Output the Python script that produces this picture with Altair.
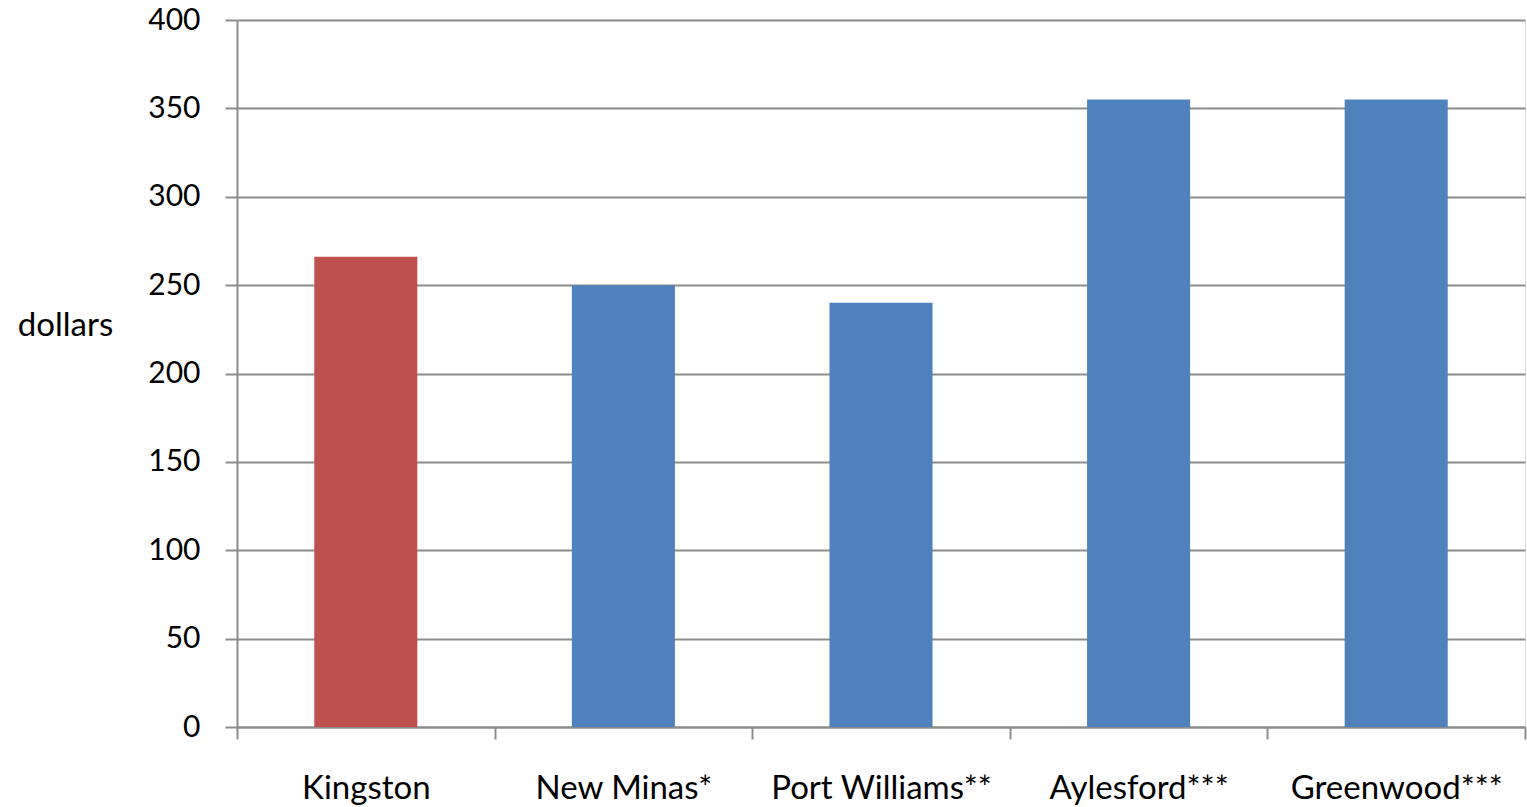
import altair as alt
import pandas as pd

# Average cost by community (dollars)
towns = ["Kingston", "New Minas*", "Port Williams**", "Aylesford***", "Greenwood***"]
dollars = [266, 250, 240, 355, 355]
bar_colors = ["#C0504D", "#4F81BD", "#4F81BD", "#4F81BD", "#4F81BD"]
y_ticks = [0, 50, 100, 150, 200, 250, 300, 350, 400]

df = pd.DataFrame({"town": towns, "dollars": dollars, "color": bar_colors})

FONT = "Lato"
GRID = "#8c8c8c"

chart = (
    alt.Chart(df)
    .mark_bar(width={"band": 0.4})
    .encode(
        x=alt.X(
            "town:N",
            sort=towns,
            scale=alt.Scale(paddingInner=0, paddingOuter=0),
            axis=alt.Axis(
                title=None,
                labelAngle=0,
                labelFont=FONT,
                labelFontSize=33,
                labelColor="#000000",
                labelPadding=33,
                labelLimit=0,
                domainColor=GRID,
                domainWidth=2,
                tickColor=GRID,
                tickWidth=2,
                tickSize=12,
                tickBand="extent",
                grid=False,
            ),
        ),
        y=alt.Y(
            "dollars:Q",
            scale=alt.Scale(domain=[0, 400], nice=False),
            axis=alt.Axis(
                title="dollars",
                titleAngle=0,
                titleFont=FONT,
                titleFontSize=33,
                titleFontWeight="normal",
                titleColor="#000000",
                titleX=-172,
                titleY=305,
                titleAlign="center",
                titleBaseline="middle",
                values=y_ticks,
                labelFont=FONT,
                labelFontSize=30,
                labelColor="#000000",
                labelPadding=25,
                domainColor=GRID,
                domainWidth=2,
                tickColor=GRID,
                tickWidth=2,
                tickSize=12,
                grid=True,
                gridColor=GRID,
                gridWidth=2,
            ),
        ),
        color=alt.Color("color:N", scale=None, legend=None),
    )
    .properties(
        width=1288,
        height=707,
        autosize=alt.AutoSizeParams(type="none"),
        padding={"left": 237, "top": 20, "right": 2, "bottom": 80},
    )
    .configure_view(stroke=None)
    .configure(background="#ffffff")
)

chart.save("out.html", embed_options={"renderer": "svg", "actions": False})
